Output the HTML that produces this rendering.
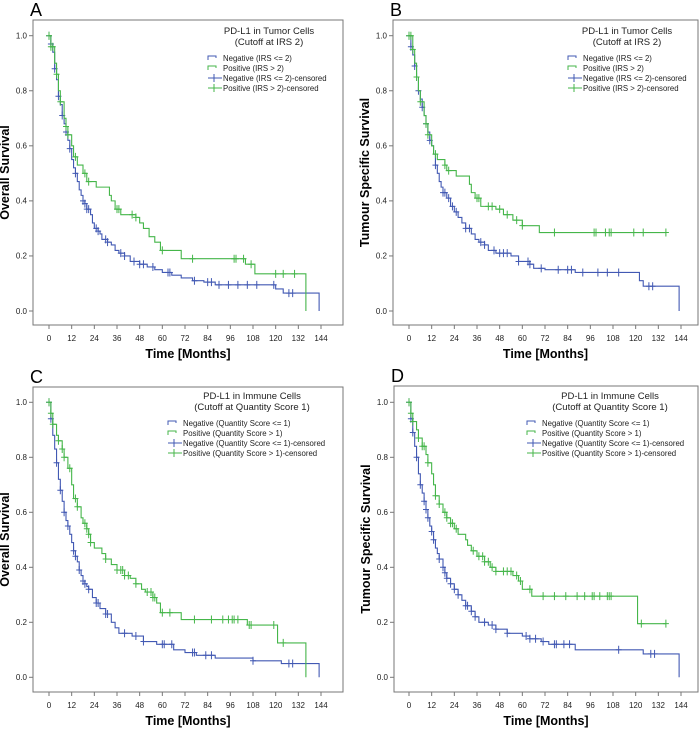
<!DOCTYPE html>
<html><head><meta charset="utf-8"><style>
body{margin:0;background:#fff;}
svg{display:block;font-family:"Liberation Sans",Arial,sans-serif;}
</style></head><body>
<svg id="fig" width="700" height="738" viewBox="0 0 700 738"></svg>
<script>
const xTicks=[0,12,24,36,48,60,72,84,96,108,120,132,144];
const yTicks=[0,0.2,0.4,0.6,0.8,1.0];
// Panel A
const aNegT=[0,1,2,3,4,5,6,7,8,9,10,11,12,13,14,15,16,17,18,19,20,22,23,24,26,27,28,31,33,35,37,40,43,48,52,56,60,65,70,76,82,88,120,124,143];
const aNegS=[1,0.97,0.94,0.88,0.84,0.78,0.75,0.71,0.68,0.65,0.62,0.59,0.55,0.52,0.50,0.47,0.44,0.42,0.40,0.39,0.37,0.35,0.32,0.30,0.29,0.28,0.26,0.25,0.24,0.22,0.21,0.20,0.18,0.17,0.16,0.15,0.14,0.13,0.12,0.11,0.105,0.095,0.08,0.065,0];
const aNegC=[0,1,3,5,7,9,11,14,18,19,20,21,25,26,30,31,38,40,45,48,50,55,63,64,77,84,86,90,95,100,105,110,119,127,129];
const aPosT=[0,1,3,4,5,6,8,9,10,12,13,15,18,20,25,32,33,35,38,46,48,50,53,56,59,70,104,109,136];
const aPosS=[1,0.96,0.90,0.86,0.80,0.76,0.70,0.67,0.64,0.60,0.56,0.53,0.50,0.47,0.45,0.42,0.40,0.37,0.35,0.34,0.32,0.30,0.27,0.25,0.22,0.19,0.17,0.135,0];
const aPosC=[0,1,2,4,6,9,10,14,19,21,36,37,44,46,60,76,98,99,103,107,120,124,130];
// Panel B
const bNegT=[0,1,2,3,4,5,6,7,8,9,10,11,12,13,14,15,16,17,18,20,22,24,26,28,30,33,35,37,40,42,46,54,58,64,66,72,88,122,124,143];
const bNegS=[1,0.96,0.93,0.89,0.85,0.80,0.77,0.74,0.71,0.68,0.65,0.62,0.60,0.57,0.53,0.50,0.47,0.45,0.43,0.41,0.38,0.36,0.34,0.32,0.30,0.28,0.26,0.25,0.24,0.22,0.21,0.20,0.18,0.17,0.155,0.15,0.14,0.11,0.09,0];
const bNegC=[0,1,3,5,7,9,11,14,18,19,21,23,25,30,32,38,40,45,48,50,52,58,63,64,70,79,84,86,92,100,105,111,127,129];
const bPosT=[0,2,3,4,5,6,8,9,10,12,13,15,19,20,25,32,33,35,38,46,50,55,60,69];
const bPosS=[1,0.95,0.90,0.85,0.80,0.76,0.71,0.68,0.64,0.60,0.57,0.55,0.53,0.51,0.49,0.46,0.43,0.41,0.38,0.37,0.35,0.33,0.31,0.285];
const bPosC=[0,1,2,4,6,9,10,14,19,21,36,37,42,44,48,52,57,60,77,98,99,104,106,107,119,124,136];
const bPosEnd=136;
// Panel C
const cNegT=[0,1,2,3,4,5,6,7,8,9,10,11,12,13,14,15,16,17,18,19,20,21,23,25,27,30,33,35,37,44,50,57,66,72,78,88,108,123,143];
const cNegS=[1,0.94,0.88,0.83,0.78,0.72,0.68,0.64,0.60,0.57,0.55,0.52,0.49,0.46,0.44,0.42,0.39,0.37,0.35,0.34,0.33,0.32,0.29,0.27,0.25,0.23,0.20,0.18,0.16,0.15,0.13,0.12,0.10,0.09,0.08,0.07,0.06,0.05,0];
const cNegC=[0,1,4,6,8,10,13,14,16,18,19,21,25,26,30,31,40,46,50,60,61,65,76,77,83,86,108,127,129];
const cPosT=[0,1,2,4,5,7,8,10,12,13,15,17,18,20,21,22,24,28,30,33,36,40,43,46,49,51,55,57,59,70,105,121,136];
const cPosS=[1,0.96,0.92,0.88,0.86,0.83,0.80,0.76,0.70,0.65,0.62,0.58,0.56,0.54,0.52,0.49,0.47,0.45,0.43,0.41,0.39,0.37,0.36,0.34,0.32,0.31,0.29,0.27,0.235,0.21,0.19,0.125,0];
const cPosC=[0,1,2,5,7,8,11,14,15,19,20,21,22,30,36,38,39,40,42,46,52,54,55,56,60,64,77,86,92,95,97,98,100,106,107,119,124];
// Panel D
const dNegT=[0,1,2,3,4,5,6,7,8,9,10,11,12,13,14,15,16,18,19,20,22,24,26,28,30,33,35,37,42,46,52,60,64,70,74,88,124,143];
const dNegS=[1,0.94,0.89,0.84,0.80,0.74,0.70,0.67,0.64,0.61,0.58,0.55,0.53,0.50,0.47,0.45,0.43,0.40,0.38,0.36,0.34,0.32,0.30,0.28,0.26,0.24,0.22,0.20,0.19,0.175,0.16,0.15,0.14,0.13,0.12,0.10,0.085,0];
const dNegC=[0,1,2,4,6,8,9,10,12,13,16,18,19,20,22,24,26,30,31,33,35,40,44,46,52,62,64,67,71,77,78,82,85,111,128,130];
const dPosT=[0,1,2,4,5,7,9,10,12,13,14,16,18,20,22,24,26,30,31,33,36,40,43,46,55,58,60,65,121];
const dPosS=[1,0.96,0.93,0.90,0.87,0.84,0.81,0.78,0.74,0.70,0.66,0.63,0.60,0.58,0.56,0.54,0.52,0.50,0.48,0.46,0.44,0.42,0.40,0.385,0.37,0.35,0.32,0.295,0.195];
const dPosC=[0,1,2,5,7,8,10,14,16,19,20,22,23,25,34,37,39,40,42,44,46,50,52,54,57,59,64,71,77,83,89,93,97,98,101,105,106,107,123,136];
const dPosEnd=136;

const NS="http://www.w3.org/2000/svg";
const svg=document.getElementById('fig');
const BLUE="#4259b3", GREEN="#45b64a";
function mk(tag,attrs,parent){const e=document.createElementNS(NS,tag);for(const k in attrs)e.setAttribute(k,attrs[k]);(parent||svg).appendChild(e);return e;}

function panel(p){
  const g=mk('g',{});
  
  
  const X=t=>p.x0+(t/144)*(p.x144-p.x0);
  const Y=s=>p.y0+s*(p.y1-p.y0);
  const lbl=mk('text',{x:p.fl-3,y:p.ft-4,'font-size':18,fill:'#000'},g);
  lbl.textContent=p.id.toUpperCase();
  
  
  const fr=mk('rect',{x:p.fl,y:p.ft,width:p.fr-p.fl,height:p.fb-p.ft,fill:'none',stroke:'#777','stroke-width':1},g);
  
  
  yTicks.forEach(v=>{
    mk('line',{x1:p.fl-4,x2:p.fl,y1:Y(v),y2:Y(v),stroke:'#777'},g);
    const t=mk('text',{x:p.fl-6,y:Y(v)+2.8,'font-size':8,'text-anchor':'end',fill:'#222'},g);
    t.textContent=v.toFixed(1);
    
    
  });
  xTicks.forEach(v=>{
    mk('line',{x1:X(v),x2:X(v),y1:p.fb,y2:p.fb+4,stroke:'#777'},g);
    const t=mk('text',{x:X(v),y:p.fb+16,'font-size':8,'text-anchor':'middle',fill:'#222'},g);
    t.textContent=v;
    
    
  });
  const xt=mk('text',{x:(p.fl+p.fr)/2,y:p.fb+33,'font-size':12.5,'font-weight':'bold','text-anchor':'middle'},g);
  xt.textContent='Time [Months]';
  
  
  const cy=(p.ft+p.fb)/2;
  const yt=mk('text',{x:p.fl-24,y:cy,'font-size':12.5,'font-weight':'bold','text-anchor':'middle',transform:`rotate(-90 ${p.fl-24} ${cy})`},g);
  yt.textContent=p.ytitle;
  
  
  function curve(T,S,C,color,end,name){
    let d=`M${X(T[0])},${Y(S[0])}`;
    for(let i=1;i<T.length;i++){d+=`H${X(T[i])}V${Y(S[i])}`;}
    if(end!==undefined)d+=`H${X(end)}`;
    const path=mk('path',{d:d,fill:'none',stroke:color,'stroke-width':1.1},g);
    
    
    C.forEach(c=>{
      let s=S[0];for(let i=0;i<T.length;i++){if(T[i]<=c)s=S[i];}
      if(end===undefined&&c>=T[T.length-1])s=S[T.length-2];
      const m=mk('path',{d:`M${X(c)},${Y(s)-4}V${Y(s)+4}M${X(c)-3},${Y(s)}H${X(c)+3}`,stroke:color,'stroke-width':1},g);
      
      
    });
  }
  curve(p.negT,p.negS,p.negC,BLUE,undefined,'negative');
  curve(p.posT,p.posS,p.posC,GREEN,p.posEnd,'positive');
  const lg=mk('g',{},g);
  
  
  const lx=p.lx, ly=p.ly;
  const t1=mk('text',{x:p.lcx,y:ly,'font-size':9.5,'text-anchor':'middle',fill:'#222'},lg);t1.textContent=p.lt1;
  const t2=mk('text',{x:p.lcx,y:ly+11,'font-size':9.5,'text-anchor':'middle',fill:'#222'},lg);t2.textContent=p.lt2;
  p.entries.forEach((e,i)=>{
    const yy=ly+24+i*10;
    if(i<2){mk('path',{d:`M${lx},${yy+2}V${yy-2}H${lx+8}V${yy}`,fill:'none',stroke:e.c},lg);}
    else{mk('path',{d:`M${lx},${yy}H${lx+14}M${lx+6},${yy-4}V${yy+4}`,fill:'none',stroke:e.c},lg);}
    const t=mk('text',{x:lx+15,y:yy+3,'font-size':7.8,fill:'#222'},lg);
    t.textContent=e.t;
    
    
  });
}
const tumorEntries=[{c:BLUE,t:'Negative (IRS <= 2)'},{c:GREEN,t:'Positive (IRS > 2)'},{c:BLUE,t:'Negative (IRS <= 2)-censored'},{c:GREEN,t:'Positive (IRS > 2)-censored'}];
const immEntries=[{c:BLUE,t:'Negative (Quantity Score <= 1)'},{c:GREEN,t:'Positive (Quantity Score > 1)'},{c:BLUE,t:'Negative (Quantity Score <= 1)-censored'},{c:GREEN,t:'Positive (Quantity Score > 1)-censored'}];
panel({id:'a',fl:33,fr:343,ft:20,fb:325,x0:49,x144:321,y0:311,y1:35.7,ytitle:'Overall Survival',
  negT:aNegT,negS:aNegS,negC:aNegC,posT:aPosT,posS:aPosS,posC:aPosC,
  lt1:'PD-L1 in Tumor Cells',lt2:'(Cutoff at IRS 2)',lcx:269,ly:34,lx:208,entries:tumorEntries});
panel({id:'b',fl:393,fr:698,ft:20,fb:325,x0:409,x144:681,y0:311,y1:35.7,ytitle:'Tumour Specific Survival',
  negT:bNegT,negS:bNegS,negC:bNegC,posT:bPosT,posS:bPosS,posC:bPosC,posEnd:bPosEnd,
  lt1:'PD-L1 in Tumor Cells',lt2:'(Cutoff at IRS 2)',lcx:627,ly:34,lx:568,entries:tumorEntries});
panel({id:'c',fl:33,fr:343,ft:387,fb:692,x0:49,x144:321,y0:677.3,y1:402.3,ytitle:'Overall Survival',
  negT:cNegT,negS:cNegS,negC:cNegC,posT:cPosT,posS:cPosS,posC:cPosC,
  lt1:'PD-L1 in Immune Cells',lt2:'(Cutoff at Quantity Score 1)',lcx:252,ly:399,lx:168,entries:immEntries});
panel({id:'d',fl:394,fr:698,ft:386,fb:692,x0:409,x144:681,y0:677.3,y1:402.3,ytitle:'Tumour Specific Survival',
  negT:dNegT,negS:dNegS,negC:dNegC,posT:dPosT,posS:dPosS,posC:dPosC,posEnd:dPosEnd,
  lt1:'PD-L1 in Immune Cells',lt2:'(Cutoff at Quantity Score 1)',lcx:610,ly:399,lx:527,entries:immEntries});
</script>
</body></html>
